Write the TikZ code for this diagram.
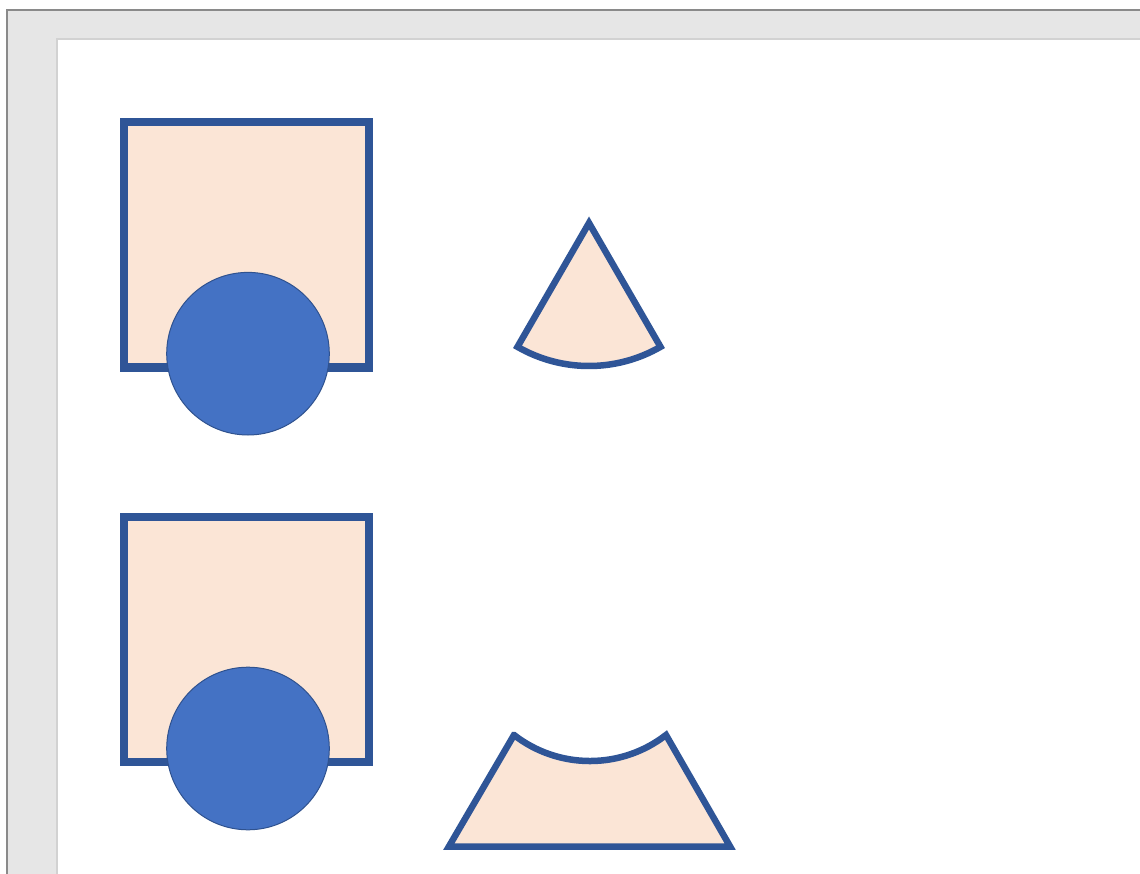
\documentclass[tikz,border=0pt]{standalone}
\definecolor{shapeline}{HTML}{2F5597}
\definecolor{shapefill}{HTML}{FBE5D6}
\definecolor{discfill}{HTML}{4472C4}
\definecolor{discline}{HTML}{2F528F}
\definecolor{bggray}{HTML}{E6E6E6}
\definecolor{framegray}{HTML}{8A8A8A}
\definecolor{pagegray}{HTML}{D2D2D2}
\tikzset{
  boxshape/.style={draw=shapeline, fill=shapefill, line width=8pt},
  sectorshape/.style={draw=shapeline, fill=shapefill, line width=6.5pt, line join=miter},
  disc/.style={draw=discline, fill=discfill, line width=1pt},
}
\begin{document}
\begin{tikzpicture}[x=1pt,y=1pt]
\useasboundingbox (0,0) rectangle (1140,-874);
% window background
\fill[white] (0,0) rectangle (1140,-874);
\fill[bggray] (7,-10) rectangle (1140,-874);
\draw[framegray, line width=2pt] (7,-874) -- (7,-10) -- (1140,-10);
\fill[white] (57,-39) rectangle (1140,-874);
\draw[pagegray, line width=1.5pt] (57,-874) -- (57,-39) -- (1140,-39);
% top pair
\draw[boxshape] (124,-122) rectangle (369,-367.5);
\draw[disc] (248,-353.7) circle (81.3);
\draw[sectorshape] (589,-223) -- ++(-120:143) arc[start angle=-120, end angle=-60, radius=143] -- cycle;
% bottom pair
\draw[boxshape] (124,-516.5) rectangle (369,-762);
\draw[disc] (248,-748.5) circle (81.3);
\draw[sectorshape] (514,-735) -- (448.9,-846.5) -- (730.1,-846.5) -- (666,-735)
  arc[start angle=-52.2, end angle=-127.8, radius=124] -- cycle;
\end{tikzpicture}
\end{document}
